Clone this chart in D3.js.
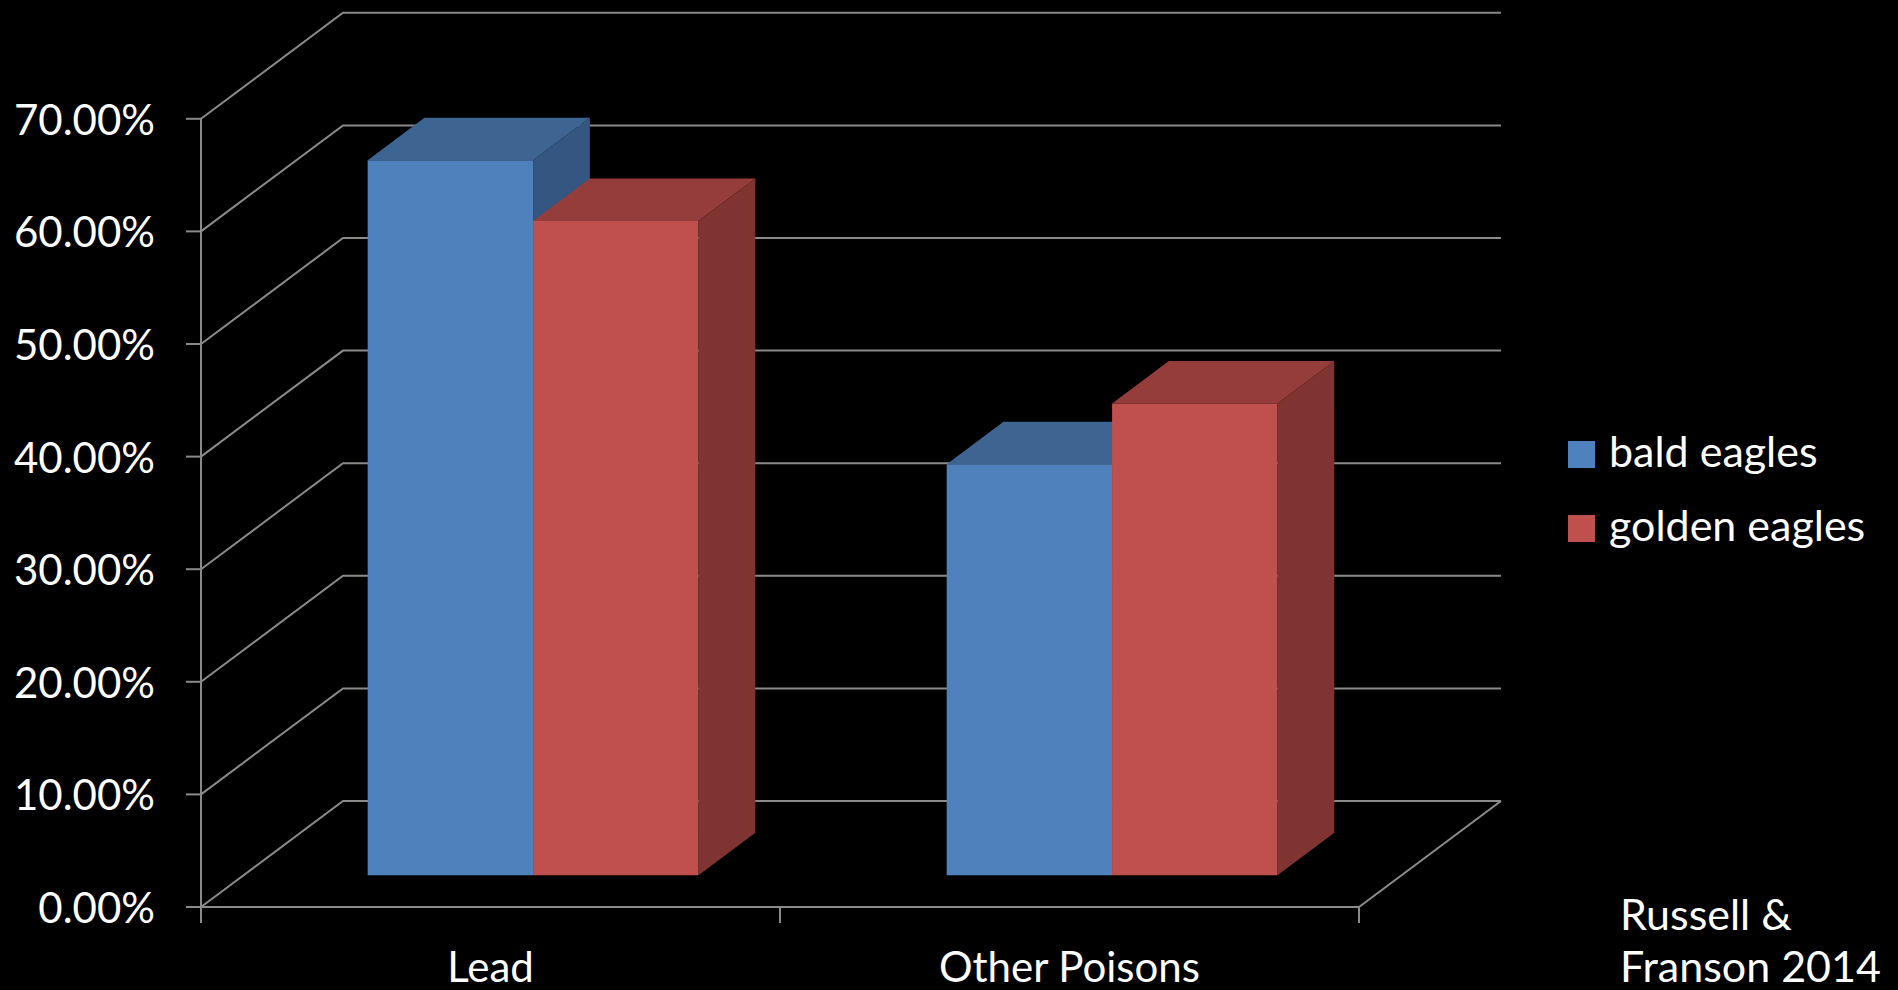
<!DOCTYPE html>
<html>
<head>
<meta charset="utf-8">
<script src="https://cdn.jsdelivr.net/npm/d3@7"></script>
<style>
  html, body { margin: 0; padding: 0; background: #000; }
  svg { display: block; }
  text { font-family: Lato, "Open Sans", sans-serif; fill: #fff; }
</style>
</head>
<body>
<svg id="chart" width="1898" height="990"></svg>
<script>
// Share of eagle poisoning deaths by cause
const categories = ["Lead", "Other Poisons"];
const seriesNames = ["bald eagles", "golden eagles"];
const baldEagles = [63.5, 36.5];
const goldenEagles = [58.1, 41.9];
const yTicks = [0, 10, 20, 30, 40, 50, 60, 70];
const sourceLines = ["Russell &", "Franson 2014"];

const colors = {
  "bald eagles":   { front: "#4f81bd", top: "#3e6592", side: "#345681" },
  "golden eagles": { front: "#c0504d", top: "#953d3b", side: "#7f3432" }
};

const svg = d3.select("#chart");

// Front plane of the plot area and the depth vector to the back wall
const x0 = 201, x1 = 1359, yBottom = 907, yTop = 118.8;
const DX = 142, DY = -106;
const zFront = 0.3, zBack = 0.7;

const y = d3.scaleLinear().domain([0, 70]).range([yBottom, yTop]);
const xCat = d3.scaleBand().domain(categories).range([x0, x1]).padding(0);
const xSer = d3.scaleBand().domain(seriesNames).range([0, xCat.bandwidth()])
  .paddingInner(0).paddingOuter(0.75);

const proj = (x, v, z) => [x + z * DX, y(v) + z * DY];

const grid = svg.append("g")
  .attr("fill", "none")
  .attr("stroke", "#8a8a8a")
  .attr("stroke-width", 2);

// Left wall diagonals and back wall gridlines
yTicks.forEach(t => {
  const a = proj(x0, t, 0), b = proj(x0, t, 1), c = proj(x1, t, 1);
  grid.append("path").attr("d", d3.line()([a, b, c]));
});

// Floor front edge and right edge
grid.append("path").attr("d", d3.line()([proj(x0, 0, 0), proj(x1, 0, 0), proj(x1, 0, 1)]));

// Value axis line with ticks
grid.append("path").attr("d", d3.line()([[x0, y(70)], [x0, yBottom + 16]]));
yTicks.forEach(t => {
  grid.append("path").attr("d", d3.line()([[x0 - 15, y(t)], [x0, y(t)]]));
});
// Category axis ticks
[x0, ...categories.map(c => xCat(c) + xCat.bandwidth())].forEach(xx => {
  grid.append("path").attr("d", d3.line()([[xx, yBottom], [xx, yBottom + 16]]));
});

// Value labels
svg.append("g").selectAll("text").data(yTicks).join("text")
  .attr("x", 155)
  .attr("y", d => y(d) + 16)
  .attr("text-anchor", "end")
  .attr("font-size", 42)
  .text(d => d3.format(".2f")(d) + "%");

// Category labels
svg.append("g").selectAll("text").data(categories).join("text")
  .attr("x", d => xCat(d) + xCat.bandwidth() / 2)
  .attr("y", 982)
  .attr("text-anchor", "middle")
  .attr("font-size", 42)
  .text(d => d);

// 3D columns
const rows = [];
categories.forEach((c, i) => {
  rows.push({ cat: c, series: "bald eagles", value: baldEagles[i] });
  rows.push({ cat: c, series: "golden eagles", value: goldenEagles[i] });
});

const bars = svg.append("g");
rows.forEach(d => {
  const xl = xCat(d.cat) + xSer(d.series);
  const xr = xl + xSer.bandwidth();
  const col = colors[d.series];
  const g = bars.append("g");
  // front face
  g.append("path").attr("fill", col.front).attr("d", d3.line()([
    proj(xl, 0, zFront), proj(xr, 0, zFront), proj(xr, d.value, zFront), proj(xl, d.value, zFront)
  ]) + "Z");
  // top face
  g.append("path").attr("fill", col.top).attr("d", d3.line()([
    proj(xl, d.value, zFront), proj(xr, d.value, zFront), proj(xr, d.value, zBack), proj(xl, d.value, zBack)
  ]) + "Z");
  // right side face
  g.append("path").attr("fill", col.side).attr("d", d3.line()([
    proj(xr, 0, zFront), proj(xr, 0, zBack), proj(xr, d.value, zBack), proj(xr, d.value, zFront)
  ]) + "Z");
});

// Legend
const legend = svg.append("g");
seriesNames.forEach((s, i) => {
  const yy = 441 + i * 74;
  legend.append("rect").attr("x", 1568).attr("y", yy).attr("width", 27).attr("height", 27)
    .attr("fill", colors[s].front);
  legend.append("text").attr("x", 1609).attr("y", yy + 26).attr("font-size", 43).text(s);
});

// Source note
svg.append("g").selectAll("text").data(sourceLines).join("text")
  .attr("x", 1620)
  .attr("y", (d, i) => 930 + i * 52)
  .attr("font-size", 43)
  .text(d => d);
</script>
</body>
</html>
